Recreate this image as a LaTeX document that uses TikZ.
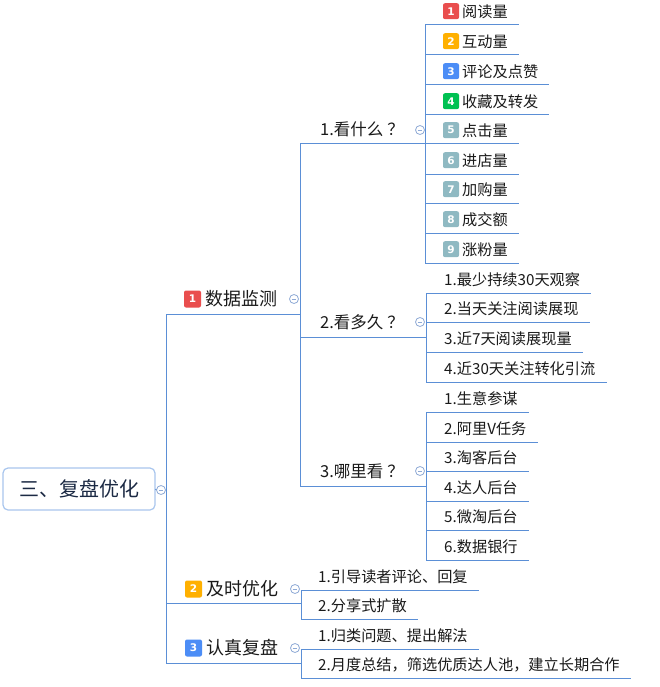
\documentclass[tikz,border=0pt]{standalone}
\usepackage{fontspec}
\setmainfont{Noto Sans CJK SC}
\newfontfamily\badgefont{DejaVu Sans}
\definecolor{lc}{HTML}{5B8FD6}
\definecolor{cc}{HTML}{8FAAD6}
\definecolor{txt}{HTML}{1A1A1A}
\definecolor{rootc}{HTML}{1C2A44}
\definecolor{rootb}{HTML}{A9C6EE}
\definecolor{bred}{HTML}{E94E4E}
\definecolor{bora}{HTML}{FFB000}
\definecolor{bblu}{HTML}{4C8DF6}
\definecolor{bgrn}{HTML}{00C152}
\definecolor{bgry}{HTML}{8FB9C2}
\tikzset{
  ln/.style={draw=lc, line width=1pt},
  rootbox/.style={draw=rootb, line width=1.2pt, rounded corners=5pt, fill=white,
    minimum width=152pt, minimum height=42pt, inner sep=0pt, text=rootc,
    font=\fontsize{20}{24}\selectfont},
  lone/.style={anchor=west, inner sep=0pt, text=txt, font=\fontsize{18}{22}\selectfont},
  ltwo/.style={anchor=west, inner sep=0pt, text=txt, font=\fontsize{16.5}{20}\selectfont},
  leaf/.style={anchor=west, inner sep=0pt, text=txt, font=\fontsize{15.2}{18}\selectfont},
  badge/.style={rounded corners=2pt, minimum size=16pt, inner sep=0pt, text=white,
    font=\badgefont\bfseries\fontsize{10.5}{12}\selectfont},
  fold/.style={circle, draw=cc, fill=white, line width=0.8pt, minimum size=9pt, inner sep=0pt,
    path picture={\draw[cc, line width=0.8pt]
      ([xshift=-2.3pt]path picture bounding box.center) -- ([xshift=2.3pt]path picture bounding box.center);}}
}
\newcommand\leafnode[5]{% name, xv, yu, xt, text
  \coordinate (#1u) at (#2,#3);
  \node[leaf] (#1) at (#4,#3-13) {#5};
  \draw[ln] (#1u) -- ([xshift=11pt,yshift=-13pt]#1.east);
}
\newcommand\badgeleaf[5]{% name, yu, colour, number, text
  \node[badge, fill=#3] (#1b) at (451,#2-13.8) {#4};
  \leafnode{#1}{425}{#2}{462}{#5}
}
\begin{document}
\begin{tikzpicture}[x=1pt,y=-1pt]
\useasboundingbox[fill=white] (0,0) rectangle (660,687);

% ---------- root ----------
\node[rootbox] (root) at (79,489) {三、复盘优化};
\node[fold] (f0) at (161,490) {};
\coordinate (v0t) at (166,314);
\coordinate (v0b) at (166,663);
\draw[ln] (v0t) -- (v0b);
\draw[ln] (root.east) -- (f0.west);
\draw[ln] (f0.east) -- (f0.east -| v0t);

% ---------- level 1 ----------
\coordinate (vAt) at (300,144);
\coordinate (vAb) at (300,486);
\coordinate (vBt) at (301,590);
\coordinate (vBb) at (301,619);
\coordinate (vCt) at (301,649);
\coordinate (vCb) at (301,678);

\node[badge, fill=bred, minimum size=17pt] (Ab) at (192.5,299) {1};
\node[lone] (A) at (205,299) {数据监测};
\node[fold] (fA) at (294,299) {};
\draw[ln] (v0t) -- (v0t -| vAt);

\node[badge, fill=bora, minimum size=17pt] (Bb) at (193.5,589) {2};
\node[lone] (B) at (206,589) {及时优化};
\node[fold] (fB) at (295,589) {};
\coordinate (uB) at (166,603);
\draw[ln] (uB) -- (uB -| vBt);

\node[badge, fill=bblu, minimum size=17pt] (Cb) at (193.5,648) {3};
\node[lone] (C) at (206,648) {认真复盘};
\node[fold] (fC) at (295,648) {};
\draw[ln] (v0b) -- (v0b -| vCt);

\draw[ln] (vAt) -- (vAb);
\draw[ln] (vBt) -- (vBb);
\draw[ln] (vCt) -- (vCb);

% ---------- level 2 ----------
\coordinate (vA1t) at (425,25);
\coordinate (vA1b) at (425,263);
\coordinate (vA2t) at (426,293);
\coordinate (vA2b) at (426,382);
\coordinate (vA3t) at (426,412);
\coordinate (vA3b) at (426,560);

\node[ltwo] (A1) at (320,129.5) {1.看什么\hspace{4pt}？};
\node[fold] (fA1) at (420,130) {};
\draw[ln] (vAt) -- (vAt -| vA1t);
\draw[ln] (vA1t) -- (vA1b);

\node[ltwo] (A2) at (320,322) {2.看多久\hspace{4pt}？};
\node[fold] (fA2) at (420,322) {};
\coordinate (uA2) at (300,337);
\draw[ln] (uA2) -- (uA2 -| vA2t);
\draw[ln] (vA2t) -- (vA2b);

\node[ltwo] (A3) at (320,471) {3.哪里看\hspace{4pt}？};
\node[fold] (fA3) at (420,471) {};
\draw[ln] (vAb) -- (vAb -| vA3t);
\draw[ln] (vA3t) -- (vA3b);

% ---------- leaves: 看什么 ----------
\badgeleaf{a1}{25}{bred}{1}{阅读量}
\badgeleaf{a2}{55}{bora}{2}{互动量}
\badgeleaf{a3}{85}{bblu}{3}{评论及点赞}
\badgeleaf{a4}{115}{bgrn}{4}{收藏及转发}
\badgeleaf{a5}{144}{bgry}{5}{点击量}
\badgeleaf{a6}{174}{bgry}{6}{进店量}
\badgeleaf{a7}{203}{bgry}{7}{加购量}
\badgeleaf{a8}{233}{bgry}{8}{成交额}
\badgeleaf{a9}{263}{bgry}{9}{涨粉量}

% ---------- leaves: 看多久 ----------
\leafnode{b1}{426}{293}{444}{1.最少持续30天观察}
\leafnode{b2}{426}{322}{444}{2.当天关注阅读展现}
\leafnode{b3}{426}{352}{444}{3.近7天阅读展现量}
\leafnode{b4}{426}{382}{444}{4.近30天关注转化引流}

% ---------- leaves: 哪里看 ----------
\leafnode{c1}{426}{412}{444}{1.生意参谋}
\leafnode{c2}{426}{442}{444}{2.阿里V任务}
\leafnode{c3}{426}{471}{444}{3.淘客后台}
\leafnode{c4}{426}{501}{444}{4.达人后台}
\leafnode{c5}{426}{530}{444}{5.微淘后台}
\leafnode{c6}{426}{560}{444}{6.数据银行}

% ---------- leaves: 及时优化 ----------
\leafnode{d1}{301}{590}{318}{1.引导读者评论、回复}
\leafnode{d2}{301}{619}{318}{2.分享式扩散}

% ---------- leaves: 认真复盘 ----------
\leafnode{e1}{301}{649}{318}{1.归类问题、提出解法}
\leafnode{e2}{301}{678}{318}{2.月度总结，筛选优质达人池，建立长期合作}

\end{tikzpicture}
\end{document}
